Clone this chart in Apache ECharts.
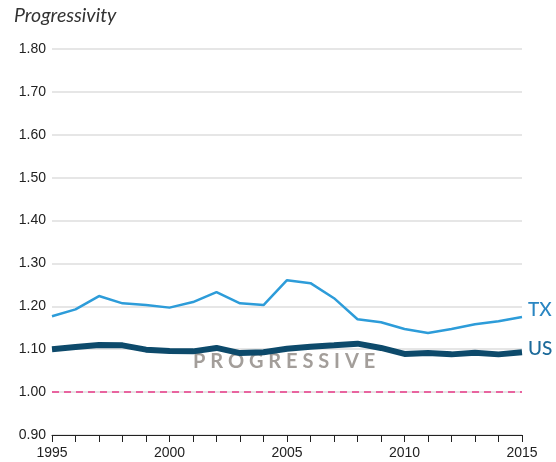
<!DOCTYPE html>
<html>
<head>
<meta charset="utf-8">
<script src="https://cdn.jsdelivr.net/npm/echarts@6/dist/echarts.min.js"></script>
<style>
	html, body { margin: 0; padding: 0; background: #fff; }
	#chart { width: 556px; height: 462px; }
</style>
</head>
<body>
<div id="chart"></div>
<script>
const years = ['1995', '1996', '1997', '1998', '1999', '2000', '2001', '2002', '2003', '2004', '2005',
	'2006', '2007', '2008', '2009', '2010', '2011', '2012', '2013', '2014', '2015']

const txValues = [1.177, 1.193, 1.224, 1.207, 1.203, 1.197, 1.21, 1.233, 1.207, 1.203, 1.261,
	1.254, 1.219, 1.170, 1.163, 1.147, 1.138, 1.147, 1.158, 1.165, 1.175]

const usValues = [1.100, 1.105, 1.110, 1.109, 1.099, 1.096, 1.095, 1.103, 1.091, 1.093, 1.101,
	1.106, 1.109, 1.113, 1.103, 1.089, 1.091, 1.088, 1.092, 1.088, 1.093]

const baseline = 1.0

const myChart = echarts.init(document.getElementById('chart'))

myChart.setOption({
	animation: false,
	grid: {
		left: 52,
		right: 34,
		top: 49,
		bottom: 27
	},
	graphic: [
		{
			type: 'text',
			left: 14,
			top: 6,
			style: {
				text: 'Progressivity',
				font: 'italic 19.5px Lato',
				fill: '#333'
			}
		},
		{
			type: 'text',
			left: 193,
			top: 352,
			style: {
				text: 'P R O G R E S S I V E',
				font: 'bold 20px Lato',
				fill: '#a39e9a'
			}
		}
	],
	xAxis: {
		type: 'category',
		data: years,
		boundaryGap: false,
		axisLine: { lineStyle: { color: '#222', width: 1 } },
		axisTick: { interval: 0, length: 7, lineStyle: { color: '#222' } },
		axisLabel: {
			interval: 4,
			color: '#222',
			fontSize: 14,
			fontFamily: 'Liberation Sans',
			margin: 11
		},
		splitLine: { show: false }
	},
	yAxis: {
		type: 'value',
		min: 0.9,
		max: 1.8,
		interval: 0.1,
		axisLine: { show: false },
		axisTick: { show: false },
		axisLabel: {
			color: '#222',
			fontSize: 14,
			fontFamily: 'Liberation Sans',
			margin: 6,
			formatter: v => v.toFixed(2)
		},
		splitLine: { lineStyle: { color: '#dedede', width: 1.5 } }
	},
	series: [
		{
			name: 'TX',
			type: 'line',
			data: txValues,
			symbol: 'none',
			lineStyle: { color: '#2d9cd9', width: 2.5 },
			endLabel: {
				show: true,
				formatter: 'TX',
				color: '#2a86c2',
				fontSize: 19,
				fontFamily: 'Lato',
				fontWeight: 500,
				offset: [-2, -7]
			}
		},
		{
			name: 'US',
			type: 'line',
			data: usValues,
			symbol: 'none',
			z: 3,
			lineStyle: { color: '#0d4a6b', width: 6 },
			endLabel: {
				show: true,
				formatter: 'US',
				color: '#1c6a9a',
				fontSize: 19,
				fontFamily: 'Lato',
				fontWeight: 500,
				offset: [-2, -3]
			},
			markLine: {
				silent: true,
				symbol: 'none',
				label: { show: false },
				lineStyle: { color: '#e8649f', type: [7, 5], width: 2 },
				data: [{ yAxis: baseline }]
			}
		}
	]
})
</script>
</body>
</html>
